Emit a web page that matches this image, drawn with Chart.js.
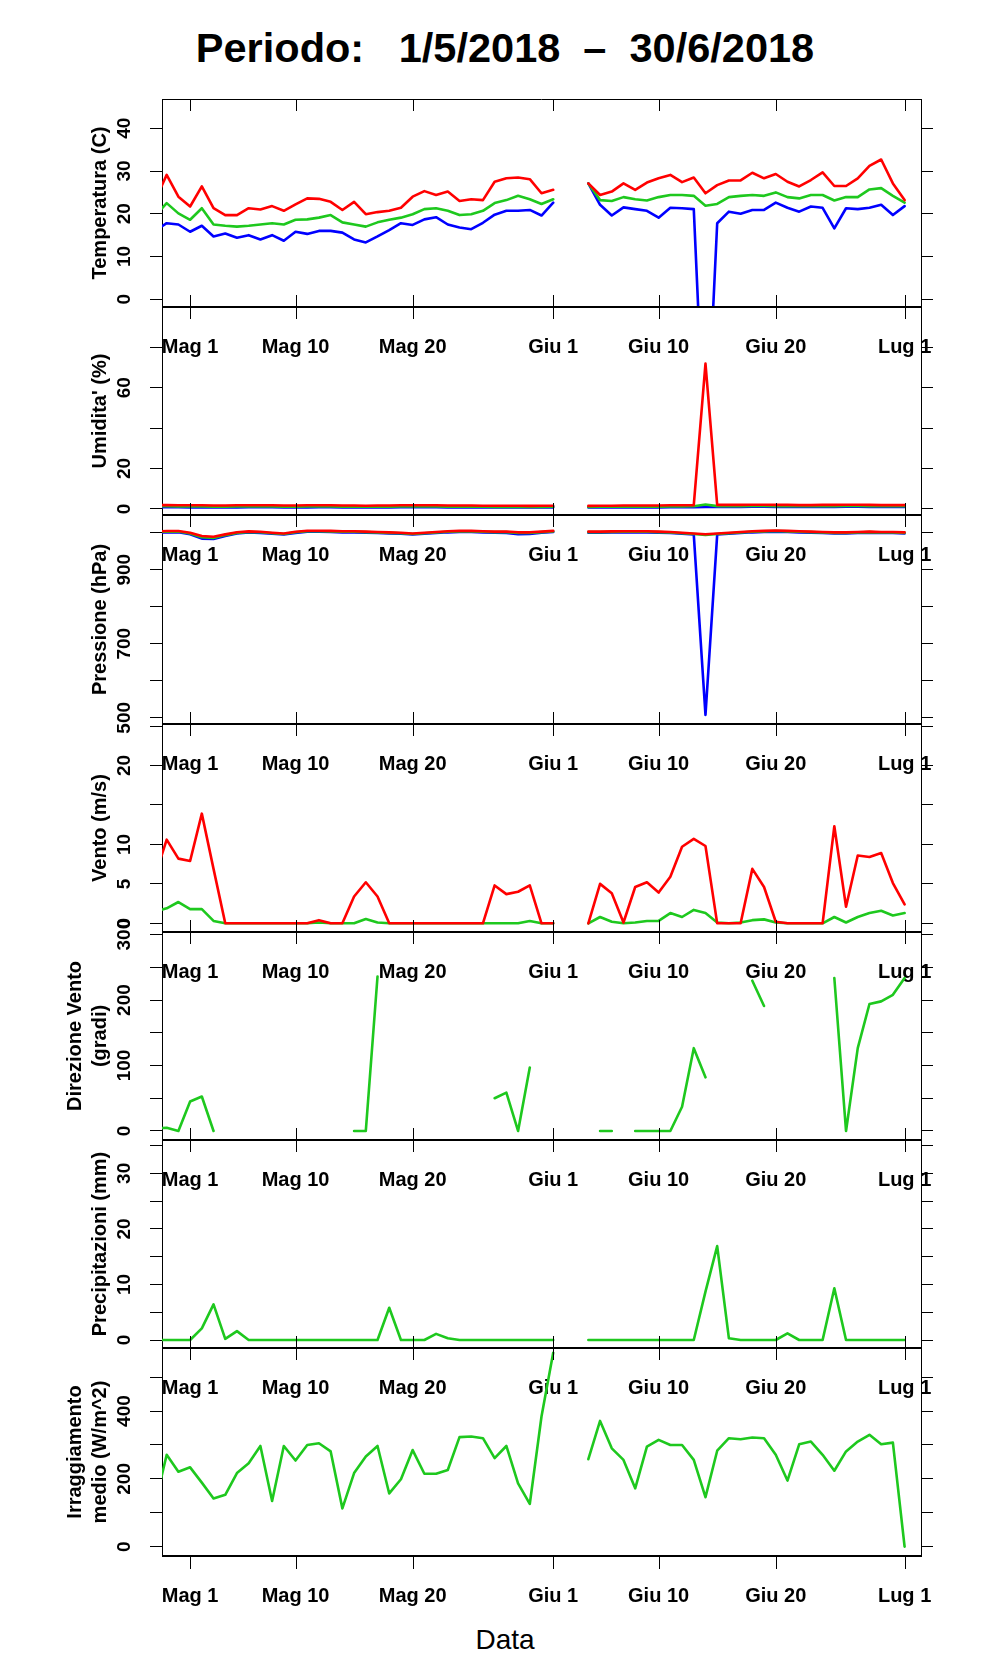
<!DOCTYPE html>
<html lang="it">
<head>
<meta charset="UTF-8">
<title>Periodo: 1/5/2018 - 30/6/2018</title>
<script src="https://cdn.jsdelivr.net/npm/chart.js"></script>
<style>
  body { margin: 0; background: #fff; width: 996px; height: 1680px; position: relative; overflow: hidden;
         font-family: "Liberation Sans", Arial, sans-serif; color: #000; }
  canvas { position: absolute; left: 0; }
  #titolo { position: absolute; left: 0; top: 24px; width: 1010px; text-align: center;
            font-size: 41.5px; line-height: 48px; font-weight: bold; white-space: pre; }
  #xlab { position: absolute; left: 0; top: 1623px; width: 1010px; text-align: center;
          font-size: 28px; line-height: 34px; white-space: pre; }
</style>
</head>
<body>
<div id="titolo">Periodo:   1/5/2018  –  30/6/2018</div>
<div id="xlab">Data</div>

<script>
// giorni rispetto al 1 maggio 2018 (0 = Mag 1)
const giorni = [-3, -2, -1, 0, 1, 2, 3, 4, 5, 6,
  7, 8, 9, 10, 11, 12, 13, 14, 15, 16,
  17, 18, 19, 20, 21, 22, 23, 24, 25, 26,
  27, 28, 29, 30, 31, 32, 33, 34, 35, 36,
  37, 38, 39, 40, 41, 42, 43, 44, 45, 46,
  47, 48, 49, 50, 51, 52, 53, 54, 55, 56,
  57, 58, 59, 60, 61];

const xTickGiorni = [0, 9, 19, 31, 40, 50, 61];
const xTickEtichette = ['Mag 1', 'Mag 10', 'Mag 20', 'Giu 1', 'Giu 10', 'Giu 20', 'Lug 1'];

// temperatura (C)
const tMax = [23.1, 29.1, 24.0, 21.7, 26.4, 21.3, 19.7, 19.7, 21.3, 21.0,
  21.8, 20.7, 22.2, 23.6, 23.5, 22.8, 20.9, 22.8, 19.9, 20.4,
  20.7, 21.4, 24.0, 25.3, 24.4, 25.2, 23.0, 23.4, 23.2, 27.5,
  28.3, 28.5, 28.1, 24.8, 25.6, null, null, 27.1, 24.4, 25.2,
  27.1, 25.6, 27.3, 28.3, 29.1, 27.4, 28.5, 24.8, 26.7, 27.8,
  27.8, 29.6, 28.3, 29.3, 27.5, 26.4, 27.9, 29.7, 26.5, 26.5,
  28.3, 31.2, 32.7, 27.1, 23.2];
const tMed = [19.5, 22.5, 20.1, 18.6, 21.3, 17.5, 17.2, 17.0, 17.2, 17.5,
  17.8, 17.5, 18.6, 18.7, 19.1, 19.7, 18.0, 17.5, 17.0, 18.0,
  18.6, 19.1, 19.9, 21.1, 21.3, 20.7, 19.7, 19.9, 20.7, 22.5,
  23.2, 24.2, 23.4, 22.3, 23.4, null, null, 27.1, 23.2, 23.0,
  23.9, 23.4, 23.1, 23.9, 24.4, 24.4, 24.2, 21.9, 22.3, 23.9,
  24.2, 24.4, 24.2, 25.0, 23.9, 23.6, 24.4, 24.4, 23.1, 23.9,
  23.9, 25.7, 26.0, 24.2, 22.6];
const tMin = [16.0, 17.8, 17.5, 15.8, 17.2, 14.7, 15.4, 14.4, 15.0, 14.0,
  15.0, 13.7, 15.8, 15.3, 16.0, 16.0, 15.6, 14.0, 13.3, 14.7,
  16.2, 17.8, 17.4, 18.7, 19.2, 17.5, 16.8, 16.4, 17.9, 19.8,
  20.7, 20.7, 20.9, 19.6, 22.6, null, null, 27.1, 22.1, 19.6,
  21.5, 21.1, 20.7, 19.1, 21.4, 21.3, 21.1, -40, 17.8, 20.5,
  20.0, 20.9, 20.9, 22.6, 21.4, 20.5, 21.7, 21.4, 16.6, 21.3,
  21.1, 21.4, 22.1, 19.7, 21.8];

// umidita' (%)
const umMax = [1.9, 1.9, 1.8, 1.8, 1.8, 1.7, 1.7, 1.8, 1.8, 1.8,
  1.8, 1.7, 1.7, 1.8, 1.8, 1.8, 1.7, 1.7, 1.6, 1.7,
  1.7, 1.8, 1.8, 1.8, 1.8, 1.7, 1.7, 1.7, 1.6, 1.6,
  1.6, 1.6, 1.5, 1.6, 1.6, null, null, 1.5, 1.6, 1.6,
  1.7, 1.7, 1.7, 1.7, 1.8, 1.8, 1.9, 72.0, 2.0, 2.0,
  2.0, 2.1, 2.1, 2.0, 2.0, 1.9, 1.9, 2.0, 2.0, 2.1,
  2.1, 2.0, 1.9, 1.9, 1.9];
const umMed = [1.3, 1.3, 1.2, 1.2, 1.2, 1.1, 1.1, 1.2, 1.2, 1.2,
  1.2, 1.1, 1.1, 1.2, 1.2, 1.2, 1.1, 1.1, 1.1, 1.1,
  1.1, 1.2, 1.2, 1.2, 1.2, 1.1, 1.1, 1.1, 1.1, 1.0,
  1.0, 1.0, 1.0, 1.0, 1.1, null, null, 1.0, 1.1, 1.1,
  1.1, 1.1, 1.1, 1.1, 1.2, 1.2, 1.3, 2.2, 1.4, 1.4,
  1.4, 1.5, 1.5, 1.4, 1.4, 1.3, 1.3, 1.4, 1.4, 1.5,
  1.5, 1.4, 1.3, 1.3, 1.3];
const umMin = [0.9, 0.9, 0.9, 0.8, 0.8, 0.8, 0.8, 0.8, 0.9, 0.9,
  0.9, 0.8, 0.8, 0.8, 0.9, 0.9, 0.8, 0.8, 0.8, 0.8,
  0.8, 0.9, 0.9, 0.9, 0.9, 0.8, 0.8, 0.8, 0.8, 0.7,
  0.7, 0.7, 0.7, 0.7, 0.8, null, null, 0.7, 0.8, 0.8,
  0.8, 0.8, 0.8, 0.8, 0.9, 0.9, 0.9, 1.0, 1.0, 1.0,
  1.0, 1.1, 1.1, 1.0, 1.0, 1.0, 1.0, 1.0, 1.0, 1.1,
  1.1, 1.0, 1.0, 1.0, 1.0];

// pressione (hPa)
const prMax = [1003, 1004.5, 1004.5, 1000, 991, 989, 995.5, 1001, 1003.5, 1002.7,
  1000, 998, 1002.7, 1005.4, 1005.4, 1005, 1004, 1004, 1003, 1002,
  1001, 1000, 998, 1000, 1002, 1004, 1005, 1005, 1004, 1003,
  1003, 1001, 1001, 1003, 1005, null, null, 1003, 1003, 1003.5,
  1004, 1004, 1004, 1003, 1002, 1000, 998, 996, 998, 1000,
  1002, 1004, 1005, 1006, 1005, 1004, 1003, 1002, 1001, 1001,
  1002, 1003, 1002, 1002, 1001];
const prMed = [1001.5, 1003, 1003, 998, 988, 986, 993.5, 999.5, 1002, 1001.2,
  998.5, 996.5, 1001.2, 1004, 1004, 1003.5, 1002.5, 1002.5, 1001.5, 1000.5,
  999.5, 998.5, 996.5, 998.5, 1000.5, 1002.5, 1003.5, 1003.5, 1002.5, 1001.5,
  1001.5, 999, 999, 1001.5, 1003.5, null, null, 1001.5, 1001.5, 1002,
  1002.5, 1002.5, 1002.5, 1001.5, 1000.5, 998.5, 996.5, 994, 996.5, 998.5,
  1000.5, 1002.5, 1003.5, 1004.5, 1003.5, 1002.5, 1001.5, 1000.5, 999.5, 999.5,
  1000.5, 1001.5, 1000.5, 1000.5, 999.5];
const prMin = [1000, 1001.5, 1001, 996, 984, 983, 991, 998, 1000.5, 999.5,
  997, 995, 999.5, 1002.5, 1002.5, 1002, 1001, 1001, 1000, 999,
  998, 997, 995, 997, 999, 1001, 1002, 1002, 1001, 1000,
  999.5, 996, 996.5, 1000, 1002, null, null, 1000, 1000, 1000.5,
  1001, 1001, 1001, 1000, 999, 997, 995, 508, 995, 997,
  999, 1001, 1002, 1003, 1002, 1001, 1000, 999, 998, 998,
  999, 1000, 999, 999, 998];

// vento (m/s)
const ventoMax = [6.0, 10.6, 8.2, 7.9, 13.9, 6.9, 0, 0, 0, 0,
  0, 0, 0, 0, 0.4, 0, 0, 3.4, 5.2, 3.4,
  0, 0, 0, 0, 0, 0, 0, 0, 0, 4.8,
  3.7, 4.0, 4.8, 0, 0, null, null, 0, 5.0, 3.8,
  0.1, 4.6, 5.2, 3.9, 5.9, 9.7, 10.7, 9.8, 0, 0,
  0, 6.9, 4.6, 0.2, 0, 0, 0, 0, 12.3, 2.1,
  8.6, 8.4, 8.9, 5.1, 2.4];
const ventoMed = [1.5, 1.9, 2.7, 1.8, 1.8, 0.3, 0, 0, 0, 0,
  0, 0, 0, 0, 0.1, 0, 0, 0, 0.55, 0.1,
  0, 0, 0, 0, 0, 0, 0, 0, 0, 0,
  0, 0, 0.3, 0, 0, null, null, 0, 0.8, 0.2,
  0, 0.1, 0.3, 0.3, 1.3, 0.8, 1.7, 1.3, 0.1, 0,
  0.1, 0.4, 0.5, 0.1, 0, 0, 0, 0, 0.8, 0.1,
  0.8, 1.3, 1.6, 1.0, 1.3];

// direzione vento (gradi)
const direzione = [4, 5, 0, 45, 52.6, 0, null, null, null, null,
  null, null, null, null, null, null, null, 0, 0, 236,
  null, null, null, null, null, null, null, null, null, 50,
  58.7, 0, 97, null, null, null, null, null, 0, 0,
  null, 0, 0, 0, 0, 37, 126.5, 82, null, null,
  null, 229.6, 191, null, null, null, null, null, 233.7, 0,
  126.5, 194, 198, 208, 233.7];

// precipitazioni (mm)
const pioggia = [0, 0, 0, 0, 2.1, 6.4, 0.2, 1.6, 0, 0,
  0, 0, 0, 0, 0, 0, 0, 0, 0, 0,
  5.8, 0, 0, 0, 1.1, 0.3, 0, 0, 0, 0,
  0, 0, 0, 0, 0, null, null, 0, 0, 0,
  0, 0, 0, 0, 0, 0, 0, 8.7, 16.9, 0.3,
  0, 0, 0, 0, 1.2, 0, 0, 0, 9.3, 0,
  0, 0, 0, 0, 0];

// irraggiamento medio (W/m^2)
const irraggiamento = [125, 271, 221, 234, 189, 142, 153, 217, 246, 297,
  135, 297, 254, 300, 305, 281, 113, 217, 266, 297,
  157, 199, 285, 215, 215, 226, 323, 325, 320, 261,
  297, 187, 126, 384, 572, null, null, 258, 371, 290,
  256, 172, 295, 315, 300, 300, 256, 146, 283, 320,
  317, 322, 320, 271, 195, 302, 310, 271, 224, 281,
  310, 330, 302, 307, 0];

const ROSSO = '#ff0000', VERDE = '#1ec81e', BLU = '#0000ff';
const FONT = '"Liberation Sans", Arial, sans-serif';

const pannelli = [
  { titolo: ['Temperatura (C)'], min: -1.8, max: 46.85,
    tacche: [0, 10, 20, 30, 40], etichette: [0, 10, 20, 30, 40],
    serie: [[tMax, ROSSO], [tMed, VERDE], [tMin, BLU]] },
  { titolo: ["Umidita' (%)"], min: -3, max: 100,
    tacche: [0, 20, 40, 60, 80], etichette: [0, 20, 60],
    serie: [[umMax, ROSSO], [umMed, VERDE], [umMin, BLU]] },
  { titolo: ['Pressione (hPa)'], min: 483.3, max: 1047.8,
    tacche: [500, 600, 700, 800, 900, 1000], etichette: [500, 700, 900],
    serie: [[prMax, ROSSO], [prMed, VERDE], [prMin, BLU]] },
  { titolo: ['Vento (m/s)'], min: -1.1, max: 25.26,
    tacche: [0, 5, 10, 15, 20, 25], etichette: [0, 5, 10, 20],
    serie: [[ventoMax, ROSSO], [ventoMed, VERDE]] },
  { titolo: ['Direzione Vento', '(gradi)'], min: -13.8, max: 304,
    tacche: [0, 50, 100, 150, 200, 250, 300], etichette: [0, 100, 200, 300],
    serie: [[direzione, VERDE]] },
  { titolo: ['Precipitazioni (mm)'], min: -1.44, max: 36,
    tacche: [0, 5, 10, 15, 20, 25, 30, 35], etichette: [0, 10, 20, 30],
    serie: [[pioggia, VERDE]] },
  { titolo: ['Irraggiamento', 'medio (W/m^2)'], min: -27.5, max: 586,
    tacche: [0, 100, 200, 300, 400, 500], etichette: [0, 200, 400],
    serie: [[irraggiamento, VERDE]] }
];

// bordi verticali dei pannelli (px)
const limiti = [99, 307, 515, 724, 932, 1140, 1348, 1556];
const MARG_SU = 30, MARG_GIU = 70;

// assi in stile R: tacche x, cornice, etichette y ruotate e titoli
const assiR = {
  id: 'assiR',
  afterDraw(chart, args, opts) {
    const ctx = chart.ctx;
    const a = chart.chartArea;
    const xs = chart.scales.x, ys = chart.scales.y;
    ctx.save();
    ctx.strokeStyle = '#000';
    ctx.fillStyle = '#000';

    ctx.lineWidth = 2;
    ctx.beginPath();
    ctx.moveTo(a.left, a.bottom);
    ctx.lineTo(a.right, a.bottom);
    ctx.stroke();
    if (opts.primo) {
      ctx.lineWidth = 1;
      ctx.beginPath();
      ctx.moveTo(a.left, a.top + 0.5);
      ctx.lineTo(a.right, a.top + 0.5);
      ctx.stroke();
    }

    ctx.lineWidth = 1;
    xTickGiorni.forEach(g => {
      const px = Math.round(xs.getPixelForValue(g)) + 0.5;
      ctx.beginPath();
      ctx.moveTo(px, a.top);
      ctx.lineTo(px, a.top + 12);
      if (opts.ultimo) {
        ctx.moveTo(px, a.bottom);
        ctx.lineTo(px, a.bottom + 13);
      } else {
        ctx.moveTo(px, a.bottom - 12);
        ctx.lineTo(px, a.bottom + 1);
      }
      ctx.stroke();
    });

    ctx.textAlign = 'center';
    ctx.textBaseline = 'middle';
    ctx.font = 'bold 19px ' + FONT;
    opts.etichette.forEach(v => {
      ctx.save();
      ctx.translate(125, ys.getPixelForValue(v));
      ctx.rotate(-Math.PI / 2);
      ctx.fillText(String(v), 0, 0);
      ctx.restore();
    });

    ctx.font = 'bold 20px ' + FONT;
    const cy = (a.top + a.bottom) / 2;
    const posX = opts.titolo.length === 1 ? [100] : [75, 100];
    opts.titolo.forEach((t, i) => {
      ctx.save();
      ctx.translate(posX[i], cy);
      ctx.rotate(-Math.PI / 2);
      ctx.fillText(t, 0, 0);
      ctx.restore();
    });
    ctx.restore();
  }
};

function asseY(p, lato) {
  return {
    position: lato,
    min: p.min,
    max: p.max,
    afterBuildTicks: s => { s.ticks = p.tacche.map(v => ({ value: v })); },
    afterFit: s => { s.width = 12; },
    ticks: { display: false },
    grid: { drawOnChartArea: false, drawTicks: true, tickLength: 12, color: '#000', lineWidth: 1 },
    border: { display: true, color: '#000', width: 1 }
  };
}

pannelli.forEach((p, i) => {
  const h = limiti[i + 1] - limiti[i];
  const cv = document.createElement('canvas');
  cv.width = 996;
  cv.height = MARG_SU + h + MARG_GIU;
  cv.style.top = (limiti[i] - MARG_SU) + 'px';
  cv.style.width = '996px';
  cv.style.height = cv.height + 'px';
  document.body.appendChild(cv);

  new Chart(cv, {
    type: 'line',
    data: {
      datasets: p.serie.map(([valori, colore]) => ({
        data: giorni.map((g, k) => ({ x: g, y: valori[k] })),
        borderColor: colore,
        borderWidth: 2.6,
        borderJoinStyle: 'round',
        borderCapStyle: 'round',
        pointRadius: 0,
        tension: 0,
        fill: false,
        clip: 0
      }))
    },
    options: {
      responsive: false,
      animation: false,
      devicePixelRatio: 1,
      layout: { padding: { left: 150, right: 63, top: MARG_SU, bottom: 4 } },
      plugins: {
        legend: { display: false },
        tooltip: { enabled: false },
        assiR: { titolo: p.titolo, etichette: p.etichette, primo: i === 0, ultimo: i === pannelli.length - 1 }
      },
      scales: {
        x: {
          type: 'linear',
          min: -2.4,
          max: 62.4,
          afterBuildTicks: s => { s.ticks = xTickGiorni.map(v => ({ value: v })); },
          afterFit: s => { s.height = MARG_GIU - 4; s.paddingLeft = 0; s.paddingRight = 0; },
          ticks: {
            autoSkip: false, maxRotation: 0, minRotation: 0, padding: 20, color: '#000',
            font: { family: FONT, size: 20, weight: 'bold' },
            callback: v => xTickEtichette[xTickGiorni.indexOf(v)]
          },
          grid: { display: false },
          border: { display: false }
        },
        y: asseY(p, 'left'),
        y2: asseY(p, 'right')
      }
    },
    plugins: [assiR]
  });
});
</script>
</body>
</html>
